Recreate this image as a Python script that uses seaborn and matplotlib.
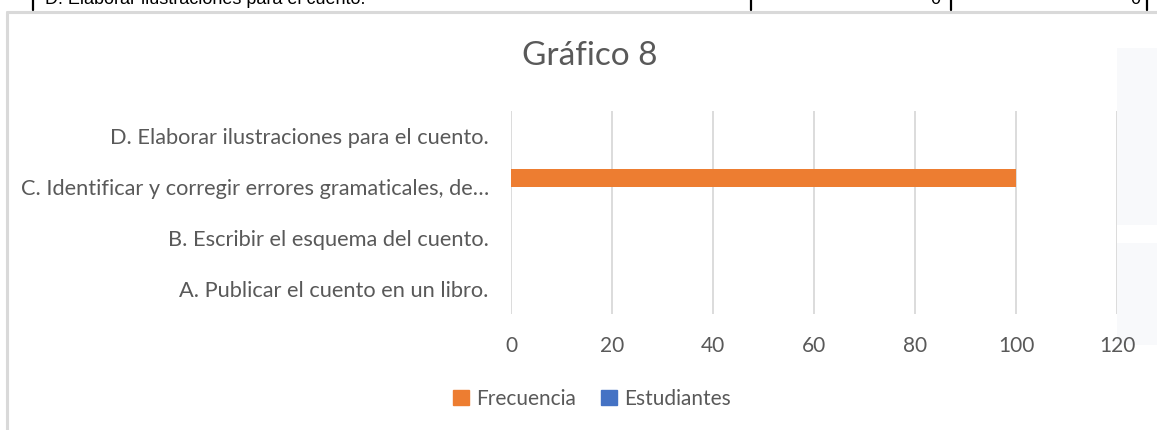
import pandas as pd
import matplotlib.pyplot as plt
import matplotlib.patches as mpatches
from matplotlib.lines import Line2D
import seaborn as sns

# data (top to bottom)
categorias = ["D. Elaborar ilustraciones para el cuento.",
              "C. Identificar y corregir errores gramaticales, de…",
              "B. Escribir el esquema del cuento.",
              "A. Publicar el cuento en un libro."]
frecuencia = [0, 100, 0, 0]
estudiantes = [0, 0, 0, 0]
series = ["Frecuencia", "Estudiantes"]
colores = ["#ED7D31", "#4472C4"]
ticks_x = [0, 20, 40, 60, 80, 100, 120]

df = pd.DataFrame({
    "categoria": categorias * 2,
    "serie": [series[0]] * 4 + [series[1]] * 4,
    "valor": frecuencia + estudiantes,
})

sns.set_style("white")
plt.rcParams['font.family'] = ['Lato', 'DejaVu Sans']
gris = "#595959"

W, H = 1157, 430
fig = plt.figure(figsize=(W / 100, H / 100), dpi=100)

# pieces of the document around the chart
fig.add_artist(Line2D([7 / W, 1], [1 - 11.5 / H] * 2, color="#D9D9D9", lw=2.2))
fig.add_artist(Line2D([7 / W] * 2, [0, 1 - 11.5 / H], color="#D9D9D9", lw=2.2))
for xl in [33, 751, 951, 1147]:
    fig.add_artist(Line2D([xl / W] * 2, [1 - 10 / H, 1], color="black", lw=1.6))
fig.text(45 / W, 1 - 4 / H, "D. Elaborar ilustraciones para el cuento.",
         family="Liberation Sans", fontsize=13, color="black", va="baseline")
fig.text(940 / W, 1 - 4 / H, "0", family="Liberation Sans", fontsize=13,
         color="black", va="baseline", ha="right")
fig.text(1140 / W, 1 - 4 / H, "0", family="Liberation Sans", fontsize=13,
         color="black", va="baseline", ha="right")
fig.add_artist(mpatches.Rectangle((1117 / W, 1 - 225 / H), 40 / W, 177 / H,
                                  color="#F8F9FB", lw=0, zorder=0))
fig.add_artist(mpatches.Rectangle((1117 / W, 1 - 345 / H), 40 / W, 102 / H,
                                  color="#F8F9FB", lw=0, zorder=0))

ax = fig.add_axes([511 / W, 1 - 314 / H, 606 / W, 203 / H])
ax.patch.set_alpha(0)
sns.barplot(data=df, y="categoria", x="valor", hue="serie", hue_order=series,
            palette=colores, order=categorias, orient="h", width=0.7,
            linewidth=0, saturation=1, ax=ax, legend=False)

ax.set_xlim(0, 120)
ax.set_xticks(ticks_x)
ax.set_ylim(3.5, -0.5)
ax.grid(axis="x", color="#D9D9D9", lw=1.3)
ax.grid(axis="y", visible=False)
ax.set_axisbelow(True)
for s in ax.spines.values():
    s.set_visible(False)
ax.tick_params(axis="x", length=0, pad=16, labelsize=15, labelcolor=gris)
ax.tick_params(axis="y", length=0, pad=16, labelsize=15.7, labelcolor=gris)
ax.set_xlabel("")
ax.set_ylabel("")

fig.text(590 / W, 1 - 56 / H, "Gráfico 8", ha="center", va="center",
         fontsize=24, color=gris)

handles = [mpatches.Patch(color=c, label=s) for c, s in zip(colores, series)]
fig.legend(handles=handles, loc="center", bbox_to_anchor=(592 / W, 1 - 399 / H),
           ncol=2, frameon=False, fontsize=15, labelcolor=gris,
           handlelength=0.75, handleheight=0.75, handletextpad=0.35,
           columnspacing=1.2)

fig.savefig("out.png", dpi=100)
